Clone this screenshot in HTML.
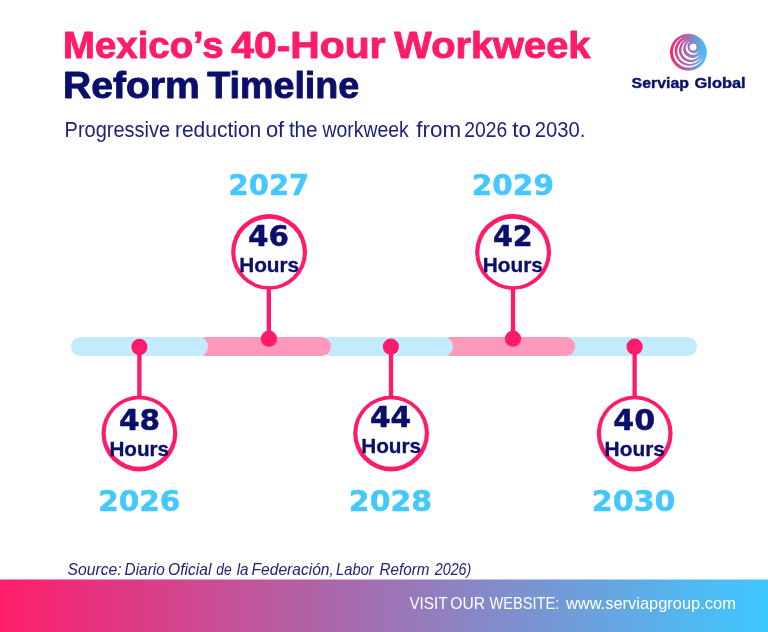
<!DOCTYPE html>
<html lang="en">
<head>
<meta charset="utf-8">
<title>Mexico’s 40-Hour Workweek Reform Timeline</title>
<style>
html,body{margin:0;padding:0;background:#fff;}
body{width:768px;height:632px;overflow:hidden;position:relative;}
svg{position:absolute;left:0;top:0;display:block;}
text{white-space:pre;}
.tp,.tn{font-family:"Liberation Sans",sans-serif;font-weight:bold;stroke-width:0.9px;stroke-linejoin:round;}
.tp{stroke:#ff1b6b;}
.tn{stroke:#0b0f6b;}
.lg{font-family:"Liberation Sans",sans-serif;font-weight:bold;stroke:#0b0f6b;stroke-width:0.4px;stroke-linejoin:round;}
.dn,.ds{font-family:"DejaVu Sans","Liberation Sans",sans-serif;font-weight:bold;stroke-width:0.5px;stroke-linejoin:round;}
.dn{stroke:#0b0f6b;}
.ds{stroke:#44c8ff;}
.l{font-family:"Liberation Sans",sans-serif;}
.li{font-family:"Liberation Sans",sans-serif;font-style:italic;}
.lb{font-family:"Liberation Sans",sans-serif;font-weight:bold;stroke:#0b0f6b;stroke-width:0.3px;stroke-linejoin:round;}
</style>
</head>
<body>
<svg width="768" height="632" viewBox="0 0 768 632">
<defs>
<linearGradient id="fg" x1="0" y1="0" x2="1" y2="0">
<stop offset="0" stop-color="#ff1d6b"/>
<stop offset="1" stop-color="#3fc8ff"/>
</linearGradient>
<linearGradient id="lg" x1="0" y1="0" x2="1" y2="0">
<stop offset="0" stop-color="#ff1d68"/>
<stop offset="1" stop-color="#3fc6fb"/>
</linearGradient>
</defs>

<!-- title -->
<g id="title">
<text class="tp" y="57.8" font-size="36.3" fill="#ff1b6b"><tspan x="63.14" textLength="160.46" lengthAdjust="spacingAndGlyphs">Mexico’s</tspan> <tspan x="231.24" textLength="154.28" lengthAdjust="spacingAndGlyphs">40-Hour</tspan> <tspan x="394.32" textLength="196.14" lengthAdjust="spacingAndGlyphs">Workweek</tspan></text>
<text class="tn" y="97.8" font-size="36.3" fill="#0b0f6b"><tspan x="62.97" textLength="136.87" lengthAdjust="spacingAndGlyphs">Reform</tspan> <tspan x="207.18" textLength="152.12" lengthAdjust="spacingAndGlyphs">Timeline</tspan></text>
</g>
<!-- subtitle -->
<g id="subtitle">
<text class="l" y="136.9" font-size="21.3" fill="#1f237c"><tspan x="64.61" textLength="105.55" lengthAdjust="spacingAndGlyphs">Progressive</tspan> <tspan x="174.98" textLength="86.3" lengthAdjust="spacingAndGlyphs">reduction</tspan> <tspan x="265.93" textLength="18.26" lengthAdjust="spacingAndGlyphs">of</tspan> <tspan x="288.88" textLength="28.71" lengthAdjust="spacingAndGlyphs">the</tspan> <tspan x="322.49" textLength="86.28" lengthAdjust="spacingAndGlyphs">workweek</tspan> <tspan x="416.38" textLength="44.81" lengthAdjust="spacingAndGlyphs">from</tspan> <tspan x="464.36" textLength="42.91" lengthAdjust="spacingAndGlyphs">2026</tspan> <tspan x="512.37" textLength="18.78" lengthAdjust="spacingAndGlyphs">to</tspan> <tspan x="534.66" textLength="50.59" lengthAdjust="spacingAndGlyphs">2030.</tspan></text>
</g>

<!-- logo -->
<g id="logo">
<circle cx="688.4" cy="52.25" r="18.4" fill="url(#lg)"/>
<g fill="#fff">
<path d="M690.21 41.41A6.95 6.95 0 1 0 699.19 50.39A6.46 6.46 0 1 1 690.21 41.41Z"/>
<path d="M688.08 40.54A9.90 9.90 0 1 0 700.66 53.12A9.31 9.31 0 1 1 688.08 40.54Z"/>
<path d="M686.19 39.15A12.70 12.70 0 1 0 702.05 55.01A12.05 12.05 0 1 1 686.19 39.15Z"/>
<path d="M684.54 36.73A15.70 15.70 0 1 0 703.77 55.96A15.00 15.00 0 1 1 684.54 36.73Z"/>
</g>
<circle cx="693.1" cy="47.15" r="3.3" fill="#fff"/>
<text class="lg" y="88.3" font-size="14.8" fill="#0b0f6b"><tspan x="631.63" textLength="57.27" lengthAdjust="spacingAndGlyphs">Serviap</tspan> <tspan x="694.61" textLength="50.97" lengthAdjust="spacingAndGlyphs">Global</tspan></text>
</g>

<!-- timeline bar -->
<g id="bar">
<rect x="560" y="337" width="137" height="18.9" rx="9.45" fill="#c2ecfe"/>
<rect x="440" y="337" width="135" height="18.9" rx="9.45" fill="#ff99bb"/>
<rect x="320" y="337" width="133" height="18.9" rx="9.45" fill="#c2ecfe"/>
<rect x="196" y="337" width="135" height="18.9" rx="9.45" fill="#ff99bb"/>
<rect x="71" y="337" width="137" height="18.9" rx="9.45" fill="#c2ecfe"/>
</g>

<!-- stems, dots, rings -->
<g id="pins" fill="#ff1b6b">
<rect x="137.25" y="347" width="4.3" height="50"/>
<rect x="388.85" y="347" width="4.3" height="50"/>
<rect x="632.5" y="347" width="4.3" height="50"/>
<rect x="266.7" y="288" width="4.3" height="50"/>
<rect x="510.85" y="288" width="4.3" height="50"/>
<circle cx="139.4" cy="346.9" r="8.1"/>
<circle cx="390.9" cy="346.7" r="8.1"/>
<circle cx="634.6" cy="346.7" r="8.1"/>
<circle cx="268.9" cy="338.7" r="8.1"/>
<circle cx="513" cy="338.7" r="8.1"/>
<circle cx="139.4" cy="433.5" r="37.9"/>
<circle cx="391.1" cy="433.5" r="37.9"/>
<circle cx="634.7" cy="433.5" r="37.9"/>
<circle cx="269.1" cy="251.9" r="37.9"/>
<circle cx="513.1" cy="251.9" r="37.9"/>
</g>
<g fill="#fff">
<circle cx="139.4" cy="432.95" r="33.75"/>
<circle cx="391.1" cy="432.95" r="33.75"/>
<circle cx="634.7" cy="432.95" r="33.75"/>
<circle cx="269.1" cy="252.45" r="33.75"/>
<circle cx="513.1" cy="252.45" r="33.75"/>
</g>

<!-- numbers -->
<g id="numbers">
<text class="dn" x="118.94" y="429.9" font-size="29.2" fill="#0b0f6b" textLength="41.19" lengthAdjust="spacingAndGlyphs">48</text>
<text class="dn" x="369.9" y="427.0" font-size="29.2" fill="#0b0f6b" textLength="41.32" lengthAdjust="spacingAndGlyphs">44</text>
<text class="dn" x="613.2" y="429.9" font-size="29.2" fill="#0b0f6b" textLength="41.89" lengthAdjust="spacingAndGlyphs">40</text>
<text class="dn" x="248.13" y="246.2" font-size="29.2" fill="#0b0f6b" textLength="40.99" lengthAdjust="spacingAndGlyphs">46</text>
<text class="dn" x="492.98" y="245.9" font-size="29.2" fill="#0b0f6b" textLength="39.79" lengthAdjust="spacingAndGlyphs">42</text>
</g>
<g id="hours">
<text class="lb" x="109.43" y="455.6" font-size="19.8" fill="#0b0f6b" textLength="59.68" lengthAdjust="spacingAndGlyphs">Hours</text>
<text class="lb" x="361.16" y="452.6" font-size="19.8" fill="#0b0f6b" textLength="59.94" lengthAdjust="spacingAndGlyphs">Hours</text>
<text class="lb" x="604.62" y="455.8" font-size="19.8" fill="#0b0f6b" textLength="60.29" lengthAdjust="spacingAndGlyphs">Hours</text>
<text class="lb" x="239.16" y="271.9" font-size="19.8" fill="#0b0f6b" textLength="59.94" lengthAdjust="spacingAndGlyphs">Hours</text>
<text class="lb" x="482.76" y="271.9" font-size="19.8" fill="#0b0f6b" textLength="60.19" lengthAdjust="spacingAndGlyphs">Hours</text>
</g>
<!-- years -->
<g id="years">
<text class="ds" x="98.2" y="511" font-size="29.2" fill="#44c8ff" textLength="82.23" lengthAdjust="spacingAndGlyphs">2026</text>
<text class="ds" x="348.85" y="511" font-size="29.2" fill="#44c8ff" textLength="83.35" lengthAdjust="spacingAndGlyphs">2028</text>
<text class="ds" x="591.76" y="511" font-size="29.2" fill="#44c8ff" textLength="83.77" lengthAdjust="spacingAndGlyphs">2030</text>
<text class="ds" x="228.62" y="195" font-size="29.2" fill="#44c8ff" textLength="80.58" lengthAdjust="spacingAndGlyphs">2027</text>
<text class="ds" x="471.72" y="195" font-size="29.2" fill="#44c8ff" textLength="82.24" lengthAdjust="spacingAndGlyphs">2029</text>
</g>

<!-- source -->
<g id="source">
<text class="li" y="574.9" font-size="16.2" fill="#1f237c"><tspan x="67.51" textLength="54.16" lengthAdjust="spacingAndGlyphs">Source:</tspan> <tspan x="124.58" textLength="40.13" lengthAdjust="spacingAndGlyphs">Diario</tspan> <tspan x="168.11" textLength="43.32" lengthAdjust="spacingAndGlyphs">Oficial</tspan> <tspan x="216.27" textLength="15.37" lengthAdjust="spacingAndGlyphs">de</tspan> <tspan x="236.67" textLength="11.82" lengthAdjust="spacingAndGlyphs">la</tspan> <tspan x="251.58" textLength="82.21" lengthAdjust="spacingAndGlyphs">Federación,</tspan> <tspan x="336.12" textLength="37.61" lengthAdjust="spacingAndGlyphs">Labor</tspan> <tspan x="379.52" textLength="49.98" lengthAdjust="spacingAndGlyphs">Reform</tspan> <tspan x="434.8" textLength="36.49" lengthAdjust="spacingAndGlyphs">2026)</tspan></text>
</g>

<!-- footer -->
<rect x="0" y="579.5" width="768" height="53" fill="url(#fg)"/>
<g id="footer">
<text class="l" y="608.9" font-size="17" fill="#fff"><tspan x="409.39" textLength="37.88" lengthAdjust="spacingAndGlyphs">VISIT</tspan> <tspan x="450.32" textLength="34.77" lengthAdjust="spacingAndGlyphs">OUR</tspan> <tspan x="489.4" textLength="69.94" lengthAdjust="spacingAndGlyphs">WEBSITE:</tspan> <tspan x="565.88" textLength="170.02" lengthAdjust="spacingAndGlyphs">www.serviapgroup.com</tspan></text>
</g>
</svg>
</body>
</html>
